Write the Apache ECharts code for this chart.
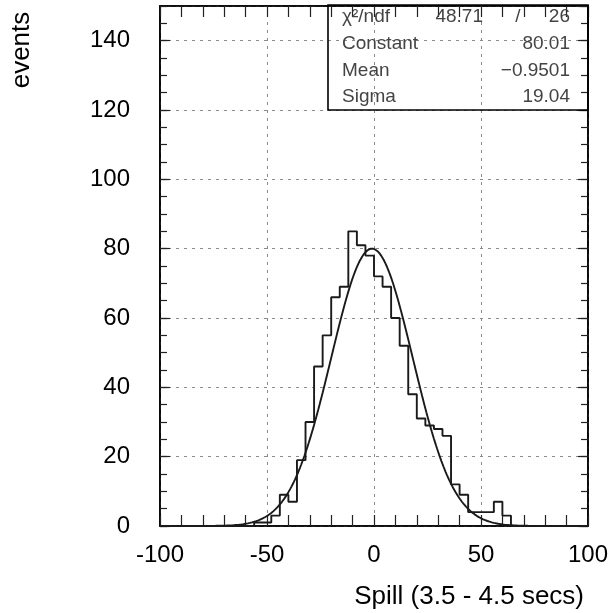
<!DOCTYPE html>
<html><head><meta charset="utf-8">
<script src="https://cdn.jsdelivr.net/npm/echarts@6/dist/echarts.min.js"></script>
<style>html,body{margin:0;padding:0;background:#fff}#c{width:614px;height:613px}</style>
</head><body><div id="c"></div>
<script>
// Histogram: 50 bins of width 4 from -100 to 100
const binLow = -100;
const binWidth = 4;
const counts = [
  0,0,0,0,0,0,0,0,0,0,0,
  1,1,3,9,7,19,30,46,55,66,69,85,81,78,72,69,60,52,38,31,29,28,26,12,9,4,4,4,7,3,
  0,0,0,0,0,0,0,0,0
];
// Gaussian fit parameters (from stats box)
const fitConstant = 80.01;
const fitMean = -0.9501;
const fitSigma = 19.04;
// Stats box
const statNames = ['Constant', 'Mean', 'Sigma'];
const statValues = ['80.01', '\u22120.9501', '19.04'];
const chi2Value = '48.71';
const ndfValue = '26';
const xTitle = 'Spill (3.5 - 4.5 secs)';
const yTitle = 'events';

const FONT = "'Liberation Sans', Arial, Helvetica, sans-serif";

const histData = counts.map((c, i) => [binLow + i * binWidth, c]);
histData.push([binLow + counts.length * binWidth, 0]);

const fitData = [];
for (let x = -100; x <= 100; x += 0.5) {
  const z = (x - fitMean) / fitSigma;
  fitData.push([x, fitConstant * Math.exp(-0.5 * z * z)]);
}

const chart = echarts.init(document.getElementById('c'), null, {renderer: 'canvas'});

const dash = {type: [3, 5], color: '#8a8a8a', width: 1};
const blk = {color: '#000', width: 1.6};

function xAx(pos, labels) {
  return {
    type: 'value', min: -100, max: 100, interval: 50, position: pos,
    axisLine: {show: true, onZero: false, lineStyle: blk},
    axisTick: {show: true, inside: true, length: 11, lineStyle: {color: '#222', width: 1.2}},
    minorTick: {show: true, splitNumber: 5, length: 11, lineStyle: {color: '#222', width: 1.2}},
    axisLabel: labels ? {show: true, margin: 17, fontSize: 24, color: '#000', fontFamily: FONT} : {show: false},
    splitLine: {show: labels, lineStyle: dash},
    minorSplitLine: {show: false}
  };
}
function yAx(pos, interval, len, labels, line) {
  return {
    type: 'value', min: 0, max: 150, interval: interval, position: pos,
    axisLine: {show: line, onZero: false, lineStyle: blk},
    axisTick: {show: true, inside: true, length: len, lineStyle: {color: '#222', width: 1.2}},
    axisLabel: labels ? {show: true, margin: 30, fontSize: 24, color: '#000', fontFamily: FONT, showMaxLabel: false} : {show: false},
    splitLine: {show: labels, lineStyle: dash}
  };
}

chart.setOption({
  animation: false,
  backgroundColor: '#fff',
  grid: {left: 160, right: 26, top: 6, bottom: 87, show: true, borderColor: '#000', borderWidth: 1.6, backgroundColor: 'transparent'},
  xAxis: [xAx('bottom', true), xAx('top', false)],
  yAxis: [
    yAx('left', 20, 10, true, true),
    yAx('left', 5, 7, false, false),
    yAx('right', 20, 10, false, true),
    yAx('right', 5, 7, false, false)
  ],
  series: [
    {
      type: 'line', step: 'end', data: histData, xAxisIndex: 0, yAxisIndex: 0,
      symbol: 'none', lineStyle: {color: '#1a1a1a', width: 1.9}, z: 3
    },
    {
      type: 'line', data: fitData, xAxisIndex: 0, yAxisIndex: 0,
      symbol: 'none', smooth: false, lineStyle: {color: '#1a1a1a', width: 1.9}, z: 4
    }
  ],
  graphic: [
    {type: 'text', x: 22, y: 50, rotation: Math.PI / 2,
     style: {text: yTitle, font: '26px ' + FONT, fill: '#000', align: 'center', verticalAlign: 'middle'}},
    {type: 'text', x: 584, y: 597,
     style: {text: xTitle, font: '26px ' + FONT, fill: '#000', align: 'right', verticalAlign: 'middle'}},
    {type: 'rect', shape: {x: 328, y: 5, width: 260, height: 105},
     style: {fill: 'none', stroke: '#000', lineWidth: 1.6}, z: 10},
    {type: 'text', x: 342, y: 17, z: 10,
     style: {text: '\u03c7\u00b2/ndf', font: '19px ' + FONT, fill: '#444', align: 'left', verticalAlign: 'middle'}},
    {type: 'text', x: 483, y: 17, z: 10,
     style: {text: chi2Value, font: '19px ' + FONT, fill: '#444', align: 'right', verticalAlign: 'middle'}},
    {type: 'text', x: 518, y: 17, z: 10,
     style: {text: '/', font: '19px ' + FONT, fill: '#444', align: 'center', verticalAlign: 'middle'}},
    {type: 'text', x: 570, y: 17, z: 10,
     style: {text: ndfValue, font: '19px ' + FONT, fill: '#444', align: 'right', verticalAlign: 'middle'}}
  ].concat(statNames.map((n, i) => ({
    type: 'text', x: 342, y: 44 + i * 26.5, z: 10,
    style: {text: n, font: '19px ' + FONT, fill: '#444', align: 'left', verticalAlign: 'middle'}
  }))).concat(statValues.map((v, i) => ({
    type: 'text', x: 570, y: 44 + i * 26.5, z: 10,
    style: {text: v, font: '19px ' + FONT, fill: '#444', align: 'right', verticalAlign: 'middle'}
  })))
});
</script></body></html>
